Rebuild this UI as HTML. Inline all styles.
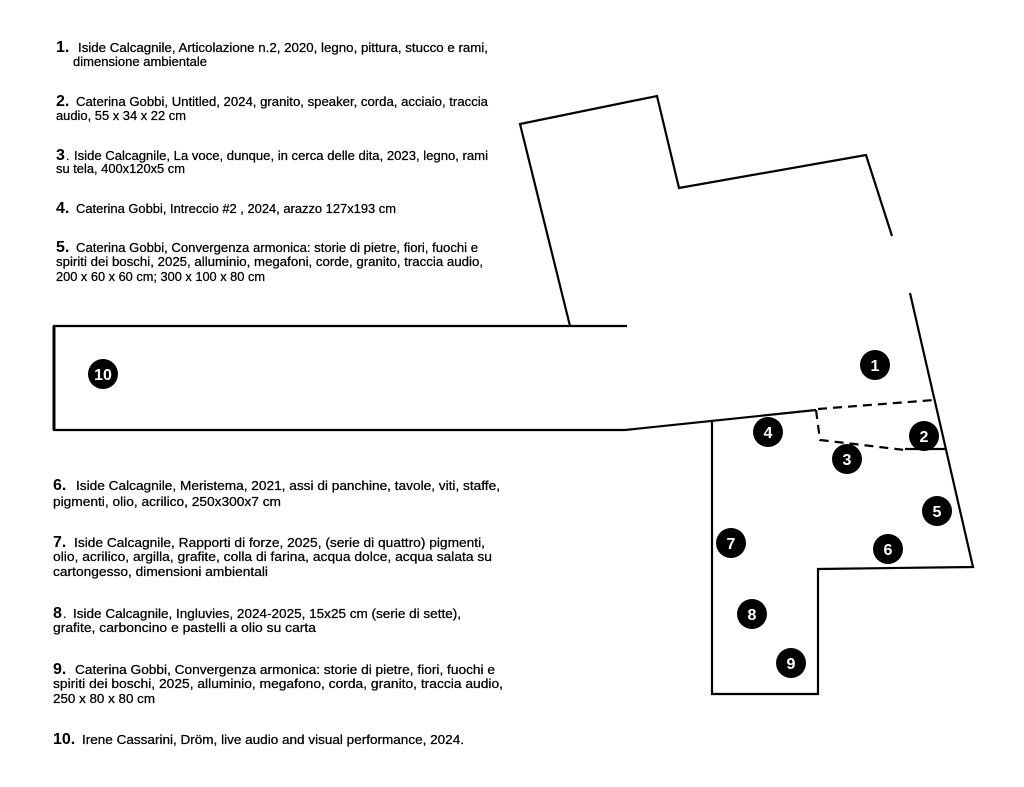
<!DOCTYPE html>
<html><head><meta charset="utf-8"><style>html,body{margin:0;padding:0;background:#fff}svg{display:block}</style></head>
<body>
<svg width="1024" height="787" viewBox="0 0 1024 787" xmlns="http://www.w3.org/2000/svg" font-family="Liberation Sans, Arial, sans-serif">
<rect width="1024" height="787" fill="#fff"/>
<g fill="none" stroke="#000" stroke-width="2.2">
<polyline points="570,326 520,124 657,96 679,188 866,155 892,236"/>
<polyline points="910,293 973,567 818,569 818,694 712,694 712,422"/>
<polyline points="627,326 54,326 54,430 625,430 816,410 "/>
<line x1="54" y1="326" x2="54" y2="430" stroke-width="3"/>
<polyline points="905,449 945,449"/>
<g stroke-dasharray="9,6">
<polyline points="818,409 934,400"/>
<polyline points="816,410 820,440 905,450"/>
</g>
</g>
<g fill="#000">
<circle cx="875" cy="365" r="15"/><circle cx="924" cy="436" r="15"/><circle cx="847" cy="459" r="15"/>
<circle cx="768" cy="432" r="15"/><circle cx="937" cy="511" r="15"/><circle cx="888" cy="549" r="15"/>
<circle cx="731" cy="543" r="15"/><circle cx="752" cy="614" r="15"/><circle cx="791" cy="663" r="15"/>
<circle cx="103" cy="374" r="15"/>
</g>
<g fill="#fff" font-weight="bold" font-size="16" text-anchor="middle">
<text x="875" y="371">1</text><text x="924" y="442">2</text><text x="847" y="465">3</text>
<text x="768" y="438">4</text><text x="937" y="517">5</text><text x="888" y="555">6</text>
<text x="731" y="549">7</text><text x="752" y="620">8</text><text x="791" y="669">9</text>
<text x="103" y="380">10</text>
</g>
<g fill="#000" font-weight="bold" font-size="16">
<text x="56" y="52">1.</text><text x="56" y="106">2.</text><text x="56" y="160">3</text><text x="56" y="213">4.</text><text x="56" y="252">5.</text>
<text x="53" y="490">6.</text><text x="53" y="547">7.</text><text x="53" y="618">8</text><text x="53" y="674">9.</text><text x="53" y="744">10.</text>
</g>
<g fill="#000" font-size="12.5" stroke="#000" stroke-width="0.25">
<text x="78" y="52" textLength="410" lengthAdjust="spacingAndGlyphs">Iside Calcagnile, Articolazione n.2, 2020, legno, pittura, stucco e rami,</text>
<text x="73" y="66" textLength="134" lengthAdjust="spacingAndGlyphs">dimensione ambientale</text>
<text x="76" y="106" textLength="412" lengthAdjust="spacingAndGlyphs">Caterina Gobbi, Untitled, 2024, granito, speaker, corda, acciaio, traccia</text>
<text x="56" y="120" textLength="130" lengthAdjust="spacingAndGlyphs">audio, 55 x 34 x 22 cm</text>
<text x="66" y="160">.</text>
<text x="74" y="160" textLength="414" lengthAdjust="spacingAndGlyphs">Iside Calcagnile, La voce, dunque, in cerca delle dita, 2023, legno, rami</text>
<text x="56" y="173" textLength="129" lengthAdjust="spacingAndGlyphs">su tela, 400x120x5 cm</text>
<text x="76" y="213" textLength="320" lengthAdjust="spacingAndGlyphs">Caterina Gobbi, Intreccio #2 , 2024, arazzo 127x193 cm</text>
<text x="76" y="252" textLength="402" lengthAdjust="spacingAndGlyphs">Caterina Gobbi, Convergenza armonica: storie di pietre, fiori, fuochi e</text>
<text x="56" y="266" textLength="427" lengthAdjust="spacingAndGlyphs">spiriti dei boschi, 2025, alluminio, megafoni, corde, granito, traccia audio,</text>
<text x="56" y="281" textLength="209" lengthAdjust="spacingAndGlyphs">200 x 60 x 60 cm; 300 x 100 x 80 cm</text>
<text x="76" y="490" textLength="424" lengthAdjust="spacingAndGlyphs">Iside Calcagnile, Meristema, 2021, assi di panchine, tavole, viti, staffe,</text>
<text x="53" y="506" textLength="228" lengthAdjust="spacingAndGlyphs">pigmenti, olio, acrilico, 250x300x7 cm</text>
<text x="74" y="547" textLength="411" lengthAdjust="spacingAndGlyphs">Iside Calcagnile, Rapporti di forze, 2025, (serie di quattro) pigmenti,</text>
<text x="53" y="561" textLength="439" lengthAdjust="spacingAndGlyphs">olio, acrilico, argilla, grafite, colla di farina, acqua dolce, acqua salata su</text>
<text x="53" y="576" textLength="215" lengthAdjust="spacingAndGlyphs">cartongesso, dimensioni ambientali</text>
<text x="63" y="618">.</text>
<text x="73" y="618" textLength="388" lengthAdjust="spacingAndGlyphs">Iside Calcagnile, Ingluvies, 2024-2025, 15x25 cm (serie di sette),</text>
<text x="53" y="632" textLength="263" lengthAdjust="spacingAndGlyphs">grafite, carboncino e pastelli a olio su carta</text>
<text x="75" y="674" textLength="420" lengthAdjust="spacingAndGlyphs">Caterina Gobbi, Convergenza armonica: storie di pietre, fiori, fuochi e</text>
<text x="53" y="688" textLength="450" lengthAdjust="spacingAndGlyphs">spiriti dei boschi, 2025, alluminio, megafono, corda, granito, traccia audio,</text>
<text x="53" y="703" textLength="102" lengthAdjust="spacingAndGlyphs">250 x 80 x 80 cm</text>
<text x="82" y="744" textLength="382" lengthAdjust="spacingAndGlyphs">Irene Cassarini, Dröm, live audio and visual performance, 2024.</text>
</g>
</svg>
</body></html>
